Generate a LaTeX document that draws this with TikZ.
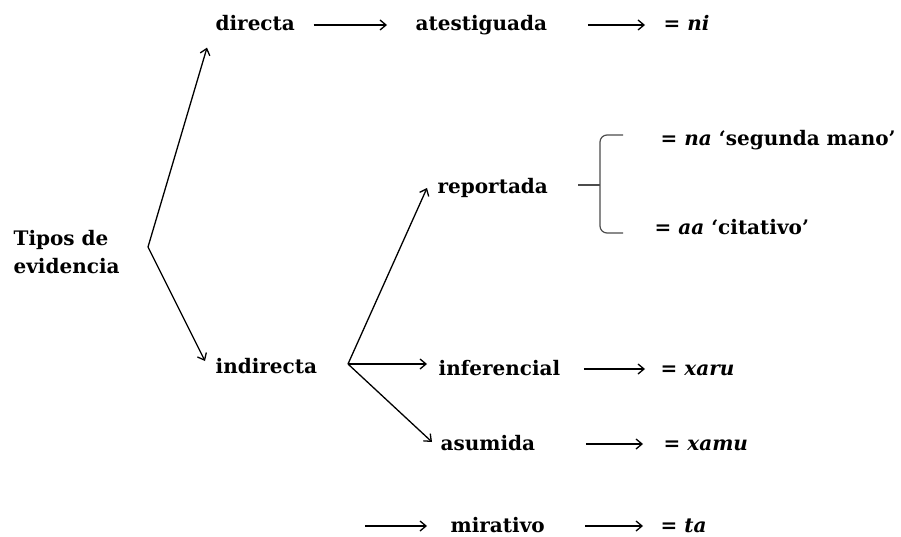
\documentclass[tikz,border=0pt]{standalone}
\usepackage{fontspec}
\setmainfont{DejaVu Serif}
\usetikzlibrary{arrows.meta}

\begin{document}
\begin{tikzpicture}[
            x = 1pt, y = -1pt, % pixel grid, y grows downwards
            > = {Straight Barb[length=6pt, width=10pt]}, % arrow head style
            line width = 1.3pt, % line style
            font = \fontsize{20}{28}\selectfont\bfseries
        ]

        \tikzstyle{every node}=[inner sep = 0pt]
        \tikzstyle{word}=[
            anchor = base west,
            text height = 16pt,
            text depth = 4pt
        ]
        \tikzstyle{brace}=[
            draw = black!70,
            line width = 1.2pt
        ]

        \useasboundingbox (0,0) rectangle (901,537);

        \node[align = left, anchor = west] (tipos) at (13,252) {Tipos de\\evidencia};
        \coordinate (v1) at (148,247);

        \node[word] (directa) at (215,31) {directa};
        \node[word] (atest) at (415,31) {atestiguada};
        \node[word] (ni) at (663,31) {= \textit{ni}};

        \node[word] (indirecta) at (215,373) {indirecta};
        \coordinate (v2) at (348,364);

        \node[word] (reportada) at (437,194) {reportada};
        \node[word] (na) at (660,146) {= \textit{na} ‘segunda mano’};
        \node[word] (aa) at (654,234) {= \textit{aa} ‘citativo’};

        \node[word] (inferencial) at (438,375) {inferencial};
        \node[word] (xaru) at (660,375) {= \textit{xaru}};
        \node[word] (asumida) at (440,450) {asumida};
        \node[word] (xamu) at (663,450) {= \textit{xamu}};

        \coordinate (mirstart) at (365,526);
        \node[word] (mirativo) at (450,532) {mirativo};
        \node[word] (ta) at (660,532) {= \textit{ta}};

        % branches
        \path[->] (v1) edge ([xshift=-8pt, yshift=-12pt]directa.south west);
        \path[->] (v1) edge ([xshift=-10pt, yshift=6pt]indirecta.west);
        \path[->] (v2) edge ([xshift=-10pt]reportada.west);
        \path[->] (v2) edge[shorten >=11pt] (v2 -| inferencial.west);
        \path[->] (v2) edge ([xshift=-8pt, yshift=2pt]asumida.west);

        % rows
        \path[->] (directa) edge[shorten <=18pt, shorten >=28pt] (atest);
        \path[->] (atest) edge[shorten <=40pt, shorten >=18pt] (ni);
        \path[->] (inferencial) edge[shorten <=23pt, shorten >=15pt] (xaru);
        \path[->] (asumida) edge[shorten <=50pt, shorten >=20pt] (xamu);
        \path[->] (mirstart) edge[shorten >=23pt] (mirativo);
        \path[->] (mirativo) edge[shorten <=40pt, shorten >=17pt] (ta);

        % bracket of reportada
        \draw[brace, rounded corners = 7pt] (623,135) -- (600,135) -- (600,233) -- (623,233);
        \draw[brace] (578,185) -- (600,185);

  \end{tikzpicture}
\end{document}
